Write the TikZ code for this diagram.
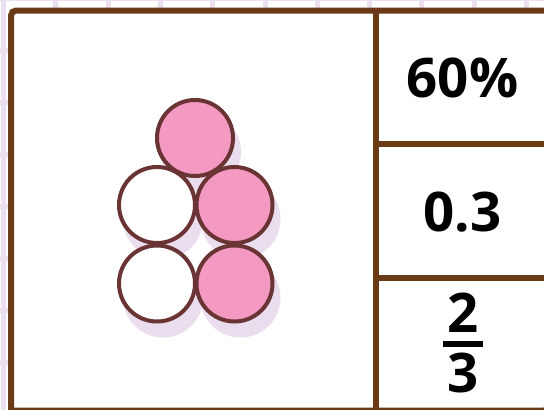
\documentclass[tikz,border=0pt]{standalone}
\usepackage{fontspec}
\setmainfont{Open Sans}
\definecolor{gridc}{HTML}{EBE0EF}
\definecolor{framec}{HTML}{6B3A16}
\definecolor{ringc}{HTML}{6B3434}
\definecolor{pinkc}{HTML}{F49AC2}
\definecolor{shadowc}{HTML}{E9DDEE}
\tikzset{
  gridline/.style={gridc, line width=5pt},
  framestyle/.style={framec, line width=6pt},
  bead/.style={circle, draw=ringc, line width=4pt, minimum size=76pt, inner sep=0pt},
  pinkbead/.style={bead, fill=pinkc},
  whitebead/.style={bead, fill=white},
  beadshadow/.style={circle, fill=shadowc, minimum size=80pt, inner sep=0pt},
  val/.style={font=\fontsize{54.6}{60}\selectfont\bfseries, text=black, inner sep=0pt, anchor=base}
}
\begin{document}
\begin{tikzpicture}[x=1pt, y=-1pt]
\useasboundingbox (0,0) rectangle (544,410);
\fill[white] (0,0) rectangle (544,410);
% graph paper background
\foreach \k in {0,...,10} {
  \draw[gridline] ({3.5+52.3*\k},0) -- ({3.5+52.3*\k},410);
}
\foreach \k in {0,...,8} {
  \draw[gridline] (0,{-1.5+52*\k}) -- (544,{-1.5+52*\k});
}
% main frame
\filldraw[framestyle, fill=white, rounded corners=5pt] (11,410.5) -- (11,10.5) -- (549,10.5) -- (549,410.5) [sharp corners] -- cycle;
\coordinate (divtop) at (375.5,10.5);
\coordinate (divbot) at (375.5,410.5);
\draw[framestyle] (divtop) -- (divbot);
\coordinate (h1l) at (375.5,143.5);
\coordinate (h1r) at (549,143.5);
\coordinate (h2l) at (375.5,277.5);
\coordinate (h2r) at (549,277.5);
\draw[framestyle] (h1l) -- (h1r);
\draw[framestyle] (h2l) -- (h2r);
% bead shadows
\foreach \n/\cx/\cy in {s1/195/138, s2/157/205, s3/234.5/205, s4/157/283.5, s5/234.5/283.5} {
  \node[beadshadow] (\n) at ({\cx+6},{\cy+14}) {};
}
% beads
\node[pinkbead] (top) at (195,138) {};
\node[whitebead] (ml) at (157,205) {};
\node[pinkbead] (mr) at (234.5,205) {};
\node[whitebead] (bl) at (157,283.5) {};
\node[pinkbead] (br) at (234.5,283.5) {};
% values
\node[val] (pct) at (462.5,97) {60\%};
\node[val] (dec) at (462.5,231) {0.3};
\node[val] (num) at (463,332) {2};
\node[val] (den) at (463,392) {3};
\coordinate (barl) at (443,344);
\coordinate (barr) at (483,344);
\draw[black, line width=6pt] (barl) -- (barr);
\end{tikzpicture}
\end{document}
